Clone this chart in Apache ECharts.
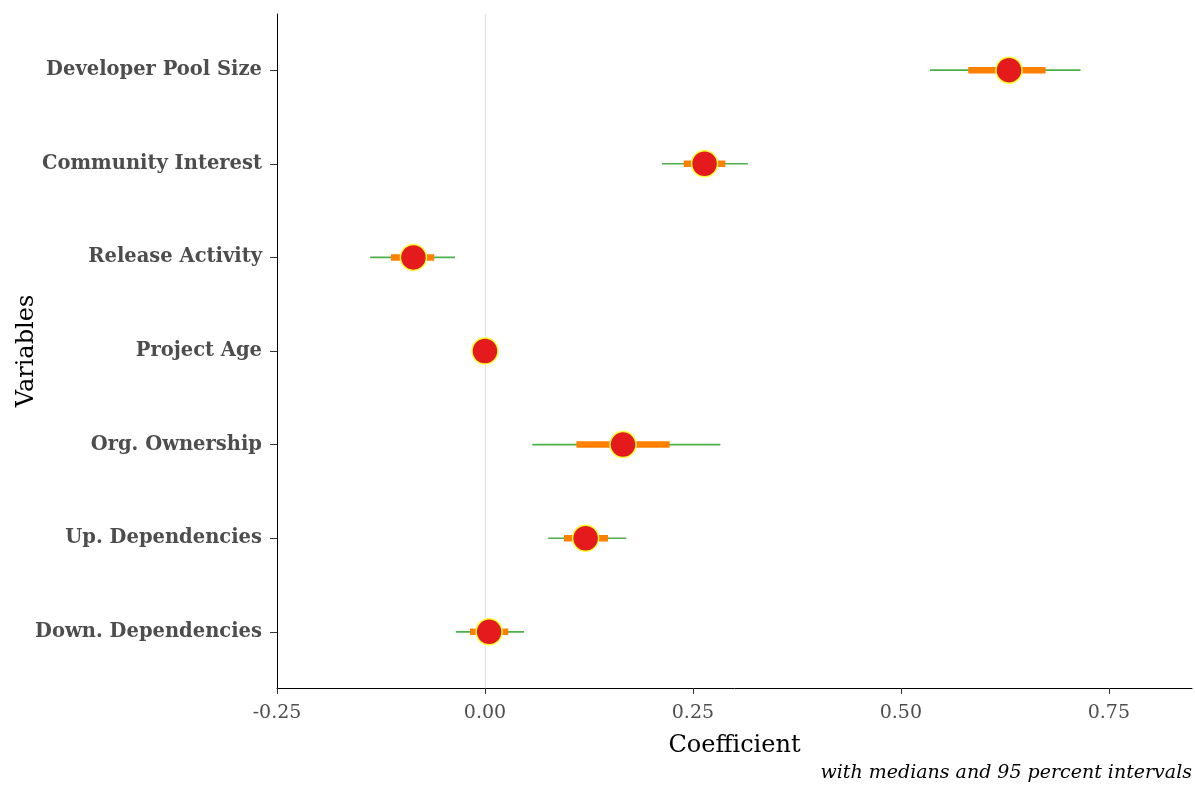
<!DOCTYPE html>
<html>
<head>
<meta charset="utf-8">
<script src="https://cdn.jsdelivr.net/npm/echarts@6/dist/echarts.min.js"></script>
<style>html,body{margin:0;padding:0;background:#fff}#c{width:1195px;height:785px}</style>
</head>
<body>
<div id="c"></div>
<script>
// Categories listed bottom to top
var categories = ['Down. Dependencies','Up. Dependencies','Org. Ownership','Project Age','Release Activity','Community Interest','Developer Pool Size'];
var medians = [0.005, 0.121, 0.166, 0.000, -0.086, 0.264, 0.630];
var lo80 = [-0.018, 0.095, 0.110, -0.002, -0.113, 0.239, 0.581];
var hi80 = [0.028, 0.148, 0.222, 0.002, -0.061, 0.289, 0.674];
var lo95 = [-0.035, 0.076, 0.057, -0.003, -0.138, 0.213, 0.535];
var hi95 = [0.047, 0.170, 0.283, 0.003, -0.036, 0.316, 0.716];
var xTicks = [-0.25, 0, 0.25, 0.5, 0.75];

var yPos = categories.map(function(_, i){ return i + 1; });

function intervalData(lo, hi){
  return categories.map(function(_, i){ return [lo[i], hi[i], yPos[i]]; });
}
function intervalRender(width, color){
  return function(params, api){
    var p1 = api.coord([api.value(0), api.value(2)]);
    var p2 = api.coord([api.value(1), api.value(2)]);
    return {type:'line', shape:{x1:p1[0], y1:p1[1], x2:p2[0], y2:p2[1]},
      style:{stroke:color, lineWidth:width, lineCap:'butt'}};
  };
}

var chart = echarts.init(document.getElementById('c'), null, {renderer:'canvas'});
chart.setOption({
  animation:false,
  backgroundColor:'#fff',
  grid:{left:277, right:3, top:14, bottom:97, outerBoundsMode:'none', containLabel:false},
  xAxis:{
    type:'value', min:-0.25, max:0.85, interval:0.25,
    name:'Coefficient', nameLocation:'middle', nameGap:46, nameMoveOverlap:false,
    nameTextStyle:{fontFamily:'DejaVu Serif', fontSize:24, color:'#000'},
    axisLine:{show:true, onZero:false, lineStyle:{color:'#000', width:1}},
    axisTick:{show:true, length:6, lineStyle:{color:'#333'}, customValues:xTicks},
    axisLabel:{customValues:xTicks, fontFamily:'DejaVu Serif', fontSize:19, color:'#4d4d4d', margin:16,
      formatter:function(v){ return v.toFixed(2); }},
    splitLine:{show:false}
  },
  yAxis:{
    type:'value', min:0.4, max:7.6,
    name:'Variables', nameLocation:'middle', nameGap:238, nameRotate:90, nameMoveOverlap:false,
    nameTextStyle:{fontFamily:'DejaVu Serif', fontSize:24, color:'#000'},
    axisLine:{show:true, onZero:false, lineStyle:{color:'#000', width:1}},
    axisTick:{show:true, length:7, lineStyle:{color:'#333'}, customValues:yPos},
    axisLabel:{customValues:yPos, fontFamily:'DejaVu Serif', fontWeight:'bold', fontSize:19.5, color:'#4d4d4d', margin:15,
      padding:[3,0,0,0],
      formatter:function(v){ return categories[Math.round(v) - 1] || ''; }},
    splitLine:{show:false}
  },
  series:[
    {type:'custom', renderItem:intervalRender(1.6, '#4DAF4A'), data:intervalData(lo95, hi95),
      encode:{x:[0,1], y:2}, z:2,
      markLine:{silent:true, symbol:'none', label:{show:false},
        lineStyle:{color:'#e3e3e3', width:1.2, type:'solid'}, data:[{xAxis:0}], z:1}},
    {type:'custom', renderItem:intervalRender(6.5, '#FF7F00'), data:intervalData(lo80, hi80),
      encode:{x:[0,1], y:2}, z:3},
    {type:'scatter', data:categories.map(function(_, i){ return [medians[i], yPos[i]]; }),
      symbol:'circle', symbolSize:26, z:4,
      itemStyle:{color:'#E41A1C', borderColor:'#FFFF33', borderWidth:1.5, opacity:1}}
  ],
  graphic:[{type:'text', right:3, top:764,
    style:{text:'with medians and 95 percent intervals', font:'italic 19px "DejaVu Serif"', fill:'#000'}}]
});
</script>
</body>
</html>
